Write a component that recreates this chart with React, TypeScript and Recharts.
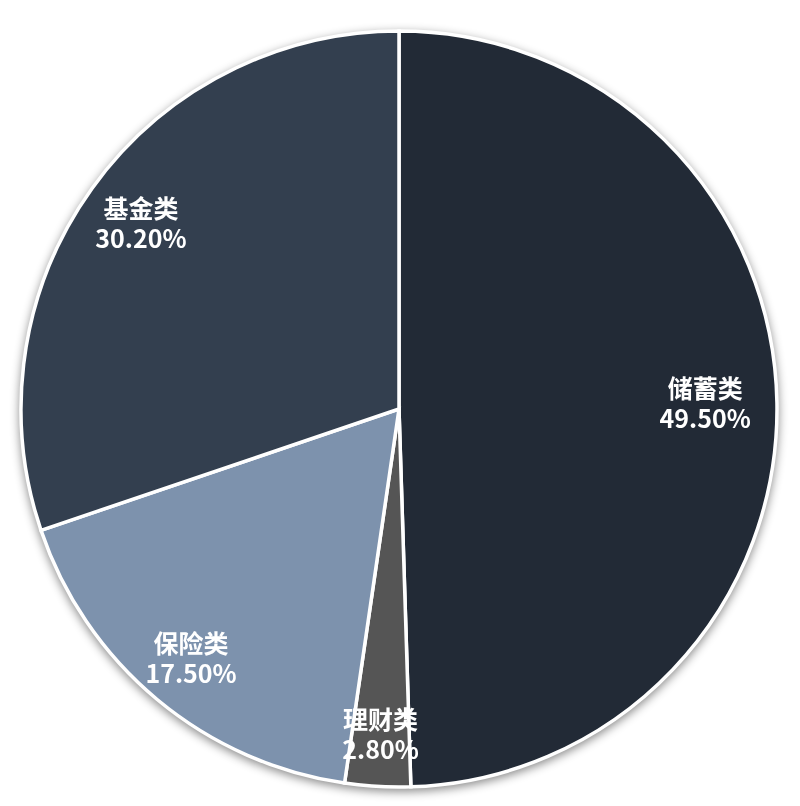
import React from "react";
import { PieChart, Pie, Cell } from "recharts";

// 各类资产占比（%），从 12 点方向顺时针
const categories = ["储蓄类", "理财类", "保险类", "基金类"];
const shares = [49.5, 2.8, 17.5, 30.2];
const colors = ["#222a36", "#555555", "#7d92ad", "#333f4f"];
// 标签离圆心的距离（占半径比例）
const labelRadius = [0.81, 0.865, 0.86, 0.84];

const data = categories.map((name, i) => ({ name, value: shares[i] }));

const RAD = Math.PI / 180;

const renderLabel = (props: any) => {
    const { cx, cy, midAngle, outerRadius, index } = props;
    const r = outerRadius * labelRadius[index];
    const x = cx + r * Math.cos(-midAngle * RAD);
    const y = cy + r * Math.sin(-midAngle * RAD);
    return (
        <text
            x={x}
            y={y}
            fill="#ffffff"
            textAnchor="middle"
            fontSize={25}
            fontWeight="bold"
            fontFamily="'Microsoft YaHei', 'Noto Sans CJK SC', sans-serif"
        >
            <tspan x={x} dy={-6}>{categories[index]}</tspan>
            <tspan x={x} dy={30}>{shares[index].toFixed(2)}%</tspan>
        </text>
    );
};

export default function App() {
    return (
        <div
            style={{
                position: "absolute",
                left: 0,
                top: 0,
                width: 800,
                height: 806,
                background: "#ffffff",
            }}
        >
            <div style={{ filter: "drop-shadow(0px 3px 5px rgba(0,0,0,0.45))" }}>
                <PieChart width={800} height={806}>
                    <Pie
                        data={data}
                        dataKey="value"
                        nameKey="name"
                        cx={394}
                        cy={404}
                        outerRadius={378}
                        startAngle={90}
                        endAngle={-270}
                        stroke="#ffffff"
                        strokeWidth={3.5}
                        label={renderLabel}
                        labelLine={false}
                        isAnimationActive={false}
                    >
                        {data.map((d, i) => (
                            <Cell key={d.name} fill={colors[i]} />
                        ))}
                    </Pie>
                </PieChart>
            </div>
        </div>
    );
}
